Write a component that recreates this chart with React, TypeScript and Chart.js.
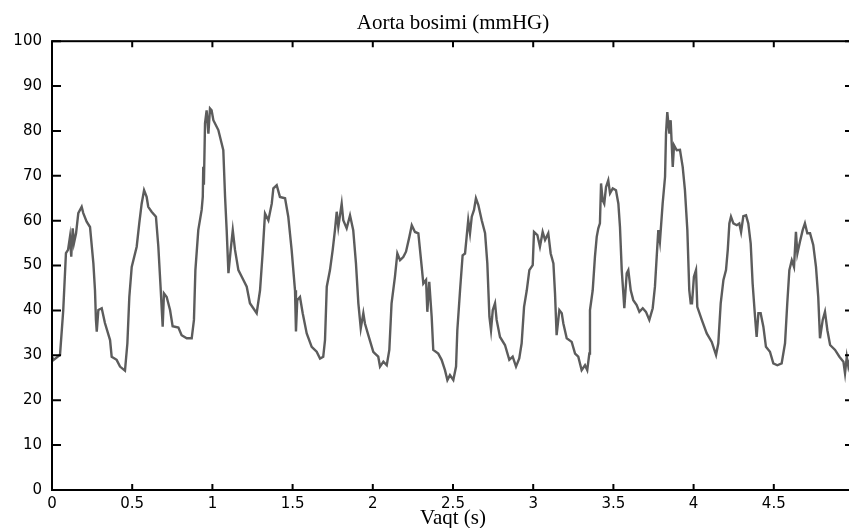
import React, { useEffect, useRef } from "react";
import { Chart, registerables } from "chart.js";

Chart.register(...registerables);

// ---- data (time in s, pressure in mmHg) ----
const timeS = [
  0.0, 0.01, 0.05, 0.07, 0.087, 0.1, 0.112, 0.12, 0.129, 0.137, 0.15, 0.164, 0.185, 0.195, 0.216, 0.237,
  0.258, 0.268, 0.274, 0.279, 0.289, 0.31, 0.33, 0.362, 0.372, 0.403, 0.424, 0.455, 0.47, 0.482, 0.497,
  0.528, 0.544, 0.559, 0.574, 0.59, 0.6, 0.621, 0.648, 0.663, 0.678, 0.69, 0.698, 0.715, 0.736, 0.752,
  0.788, 0.808, 0.84, 0.871, 0.885, 0.894, 0.912, 0.933, 0.94, 0.943, 0.947, 0.954, 0.964, 0.975, 0.985,
  0.995, 1.006, 1.037, 1.068, 1.079, 1.089, 1.1, 1.114, 1.127, 1.141, 1.162, 1.183, 1.214, 1.234, 1.276,
  1.297, 1.313, 1.328, 1.349, 1.37, 1.38, 1.401, 1.421, 1.453, 1.473, 1.494, 1.515, 1.521, 1.529, 1.546,
  1.563, 1.588, 1.619, 1.65, 1.671, 1.691, 1.702, 1.713, 1.733, 1.75, 1.764, 1.775, 1.785, 1.806, 1.816,
  1.837, 1.858, 1.878, 1.895, 1.91, 1.925, 1.941, 1.951, 1.972, 2.003, 2.014, 2.034, 2.045, 2.066, 2.087,
  2.103, 2.117, 2.138, 2.153, 2.17, 2.19, 2.207, 2.228, 2.243, 2.263, 2.284, 2.305, 2.315, 2.332, 2.34,
  2.352, 2.367, 2.377, 2.408, 2.429, 2.45, 2.465, 2.481, 2.502, 2.519, 2.527, 2.544, 2.56, 2.575, 2.585,
  2.595, 2.606, 2.617, 2.631, 2.643, 2.658, 2.679, 2.7, 2.714, 2.727, 2.737, 2.748, 2.762, 2.772, 2.793,
  2.824, 2.851, 2.872, 2.893, 2.913, 2.928, 2.943, 2.96, 2.976, 2.997, 3.005, 3.026, 3.042, 3.059, 3.074,
  3.094, 3.109, 3.126, 3.136, 3.146, 3.163, 3.178, 3.188, 3.209, 3.24, 3.261, 3.281, 3.302, 3.323, 3.337,
  3.35, 3.354, 3.371, 3.385, 3.396, 3.406, 3.416, 3.423, 3.433, 3.443, 3.454, 3.468, 3.479, 3.496, 3.516,
  3.531, 3.541, 3.552, 3.562, 3.568, 3.583, 3.593, 3.608, 3.624, 3.645, 3.662, 3.683, 3.703, 3.724, 3.745,
  3.759, 3.77, 3.78, 3.79, 3.807, 3.822, 3.828, 3.836, 3.849, 3.857, 3.87, 3.878, 3.895, 3.915, 3.932,
  3.946, 3.961, 3.973, 3.982, 3.99, 4.002, 4.015, 4.023, 4.051, 4.082, 4.113, 4.14, 4.154, 4.169, 4.186,
  4.202, 4.213, 4.223, 4.233, 4.248, 4.269, 4.285, 4.296, 4.31, 4.327, 4.341, 4.356, 4.368, 4.383, 4.393,
  4.404, 4.418, 4.435, 4.451, 4.476, 4.497, 4.522, 4.549, 4.57, 4.584, 4.597, 4.612, 4.626, 4.638, 4.647,
  4.663, 4.68, 4.694, 4.709, 4.726, 4.746, 4.763, 4.777, 4.788, 4.805, 4.819, 4.834, 4.851, 4.882, 4.909,
  4.934, 4.944, 4.955, 4.965, 4.975,
];

const pressure = [
  29.7, 29.0, 30.1, 40.0, 52.8, 53.5, 56.4, 52.0, 58.3, 55.0, 57.2, 61.7, 63.1, 61.7, 59.8, 58.6,
  50.5, 44.5, 37.9, 35.3, 40.1, 40.5, 37.2, 33.4, 29.7, 29.0, 27.5, 26.6, 32.7, 43.0, 49.7,
  54.2, 59.4, 63.8, 66.8, 65.3, 63.1, 62.0, 60.9, 54.2, 44.5, 36.4, 43.8, 43.0, 40.1, 36.5,
  36.2, 34.5, 33.8, 33.8, 37.9, 49.0, 57.9, 62.4, 65.3, 72.0, 68.0, 81.7, 84.6, 79.4, 85.0,
  84.6, 82.4, 80.2, 75.7, 65.3, 57.9, 48.3, 53.5, 57.9, 53.5, 49.0, 47.5, 45.3, 41.6, 39.4,
  44.5, 52.7, 61.6, 60.1, 63.8, 67.2, 67.9, 65.3, 65.0, 60.9, 53.5, 44.5, 35.3, 42.3, 43.0,
  39.4, 34.9, 31.9, 30.8, 29.3, 29.7, 33.4, 45.3, 49.0, 53.5, 57.9, 62.0, 58.6, 63.8, 60.1,
  58.3, 61.2, 57.9, 50.5, 41.6, 36.0, 39.4, 37.1, 34.5, 30.8, 30.4, 29.7, 27.5, 28.6, 27.8,
  31.2, 41.6, 47.5, 52.7, 51.2, 51.9, 53.1, 56.4, 59.0, 57.5, 57.2, 49.7, 46.0, 46.8, 39.7,
  46.4, 38.6, 31.2, 30.4, 29.0, 26.7, 24.5, 25.6, 24.5, 27.5, 35.6, 44.5, 52.3, 52.7, 56.4,
  60.1, 57.2, 60.9, 62.4, 65.0, 63.5, 60.1, 57.2, 50.5, 38.6, 35.6, 40.1, 41.6, 37.9, 34.1,
  32.3, 29.0, 29.7, 27.5, 29.3, 32.7, 40.8, 44.5, 49.0, 50.1, 57.5, 56.8, 54.2, 57.5, 55.7,
  57.2, 52.7, 50.5, 43.8, 34.5, 40.1, 39.4, 37.1, 33.8, 33.0, 30.4, 29.7, 26.7, 27.8, 26.7,
  30.4, 40.1, 44.5, 52.0, 56.4, 58.3, 59.4, 68.3, 64.6, 63.8, 67.5, 69.0, 66.1, 67.2, 66.8,
  63.8, 58.6, 49.0, 43.8, 40.5, 48.3, 49.0, 44.5, 42.3, 41.2, 39.7, 40.5, 39.7, 37.9, 40.5,
  45.3, 52.0, 57.9, 55.3, 63.8, 69.8, 79.4, 84.2, 79.4, 82.4, 72.0, 76.8, 75.7, 75.8, 72.0,
  66.8, 57.9, 44.5, 41.6, 41.6, 47.5, 49.0, 40.8, 37.9, 34.9, 33.0, 30.1, 32.7, 41.6, 46.8,
  49.0, 53.5, 59.4, 60.9, 59.4, 59.0, 59.4, 57.5, 61.0, 61.2, 59.4, 54.9, 46.0, 38.6, 34.1,
  39.4, 39.4, 36.4, 31.9, 30.8, 28.2, 27.8, 28.2, 32.7, 41.6, 49.0, 51.2, 49.7, 57.5, 52.7,
  55.3, 57.9, 59.4, 57.2, 57.2, 54.6, 49.7, 43.0, 33.8, 37.9, 39.7, 35.6, 32.3, 31.2, 29.7,
  28.6, 26.0, 29.7, 27.5, 29.0,
];

const xMin = 0;
const xMax = 5;
const xStep = 0.5;
const yMin = 0;
const yMax = 100;
const yStep = 10;
const chartTitle = "Aorta bosimi (mmHG)";
const xTitle = "Vaqt (s)";

const CANVAS_W = 906;
const CANVAS_H = 531;

const boxPlugin = {
  id: "matlabBox",
  afterDatasetsDraw(chart: any) {
    const { ctx, chartArea: a, scales } = chart;
    const xs = scales.x;
    const ys = scales.y;
    ctx.save();
    ctx.strokeStyle = "#000";
    ctx.lineWidth = 2;
    ctx.strokeRect(a.left, a.top, a.right - a.left, a.bottom - a.top);
    ctx.beginPath();
    xs.ticks.forEach((t: any) => {
      const px = xs.getPixelForValue(t.value);
      ctx.moveTo(px, a.bottom);
      ctx.lineTo(px, a.bottom - 6);
      ctx.moveTo(px, a.top);
      ctx.lineTo(px, a.top + 6);
    });
    ys.ticks.forEach((t: any) => {
      const py = ys.getPixelForValue(t.value);
      ctx.moveTo(a.left, py);
      ctx.lineTo(a.left + 9, py);
      ctx.moveTo(a.right, py);
      ctx.lineTo(a.right - 9, py);
    });
    ctx.stroke();
    ctx.restore();
  },
};

export default function App() {
  const ref = useRef<HTMLCanvasElement | null>(null);

  useEffect(() => {
    const canvas = ref.current;
    if (!canvas) return;
    const points = timeS.map((t, i) => ({ x: t, y: pressure[i] }));
    const tickFont = { family: "'DejaVu Sans', sans-serif", size: 15 };
    const serif = { family: "'Liberation Serif', 'Times New Roman', serif", size: 21 };
    const chart = new Chart(canvas, {
      type: "line",
      data: {
        datasets: [
          {
            data: points,
            borderColor: "#5c5c5c",
            borderWidth: 2.4,
            pointRadius: 0,
            tension: 0,
            fill: false,
          },
        ],
      },
      options: {
        responsive: false,
        animation: false,
        devicePixelRatio: 1,
        layout: { padding: { left: 0, top: 0, bottom: 0, right: 52 } },
        plugins: {
          legend: { display: false },
          tooltip: { enabled: false },
          title: {
            display: true,
            fullSize: false,
            text: chartTitle,
            color: "#000",
            font: { ...serif, weight: "normal" },
            padding: { top: 11, bottom: 5 },
          },
        },
        scales: {
          x: {
            type: "linear",
            min: xMin,
            max: xMax,
            grid: { display: false, drawTicks: false },
            border: { display: false },
            ticks: {
              stepSize: xStep,
              color: "#000",
              font: tickFont,
              padding: 5,
              maxRotation: 0,
              autoSkip: false,
              callback: (v: any) => String(Math.round(Number(v) * 100) / 100),
            },
            title: {
              display: true,
              text: xTitle,
              color: "#000",
              font: serif,
              padding: { top: 0, bottom: 0 },
            },
            afterFit(scale: any) {
              scale.height = 41;
            },
          },
          y: {
            min: yMin,
            max: yMax,
            grid: { display: false, drawTicks: false },
            border: { display: false },
            ticks: {
              stepSize: yStep,
              color: "#000",
              font: tickFont,
              padding: 10,
            },
            afterFit(scale: any) {
              scale.width = 52;
            },
          },
        },
      },
      plugins: [boxPlugin],
    });
    return () => chart.destroy();
  }, []);

  return (
    <div
      style={{
        position: "fixed",
        left: 0,
        top: 0,
        width: 849,
        height: 528,
        overflow: "hidden",
        background: "#fff",
      }}
    >
      <canvas
        ref={ref}
        width={CANVAS_W}
        height={CANVAS_H}
        style={{ display: "block", width: CANVAS_W, height: CANVAS_H }}
      />
    </div>
  );
}
